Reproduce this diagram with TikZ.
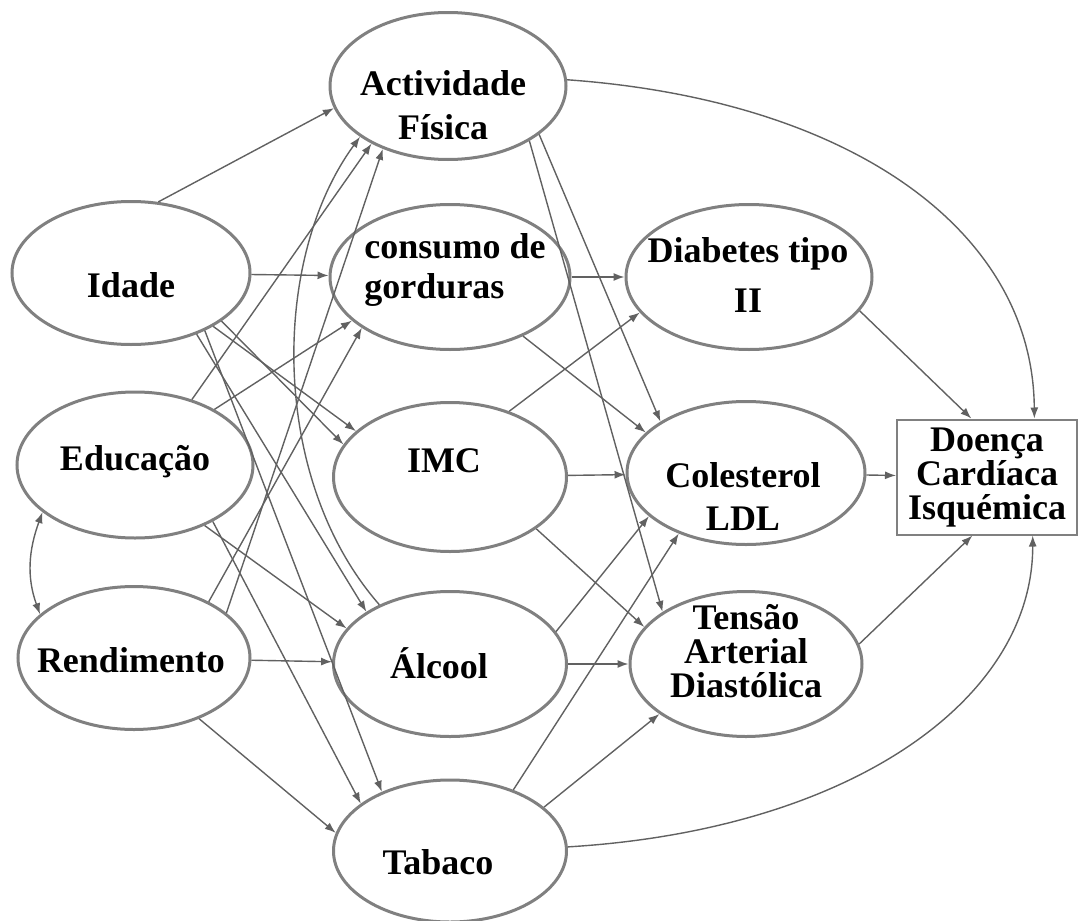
\documentclass[tikz,border=0pt]{standalone}
\usepackage{fontspec}
\setmainfont{Liberation Serif}
\usepackage{tikz}
\usetikzlibrary{
    shapes.geometric,
    arrows.meta,
    positioning
}
\tikzstyle{arrow} = [
    ->,
    >={Latex[length=5.5pt,width=4pt]},
    draw=black!62,
    line width=0.7pt
]

\begin{document}
\begin{tikzpicture}[
    x=0.5pt, y=-0.5pt,
    var/.style={ellipse, draw=black!50, line width=1.5pt, fill=white, minimum width=118pt, minimum height=72.5pt, inner sep=0pt},
    lbl/.style={font=\bfseries\fontsize{18}{22}\selectfont, align=center, inner sep=0pt},
    outcome/.style={rectangle, draw=black!50, line width=1pt, fill=white, minimum width=90pt, minimum height=57.5pt, inner sep=0pt}
]
    \useasboundingbox (0,0) rectangle (1088,921);

    % Exogenous variables
    \node[var, minimum width=119pt, minimum height=71.5pt] (idade) at (131,273) {};
    \node[lbl] (idade-t) at (131,285) {Idade};
    \node[var, minimum height=73pt] (educacao) at (135,465) {};
    \node[lbl] (educacao-t) at (135,462) {Educação};
    \node[var, minimum width=116pt, minimum height=71.5pt] (rendimento) at (134,658) {};
    \node[lbl] (rendimento-t) at (131,660) {Rendimento};

    % Behaviours
    \node[var, minimum height=73.5pt] (actividade) at (448,86) {};
    \node[lbl] (actividade-t) at (443,105) {Actividade\\Física};
    \node[var, minimum width=120pt] (consumo) at (450,277) {};
    \node[lbl, align=left, font=\bfseries\fontsize{18}{20}\selectfont] (consumo-t) at (455,270) {consumo de\\gorduras};
    \node[var, minimum width=116.5pt, minimum height=74.5pt] (imc) at (450,477) {};
    \node[lbl] (imc-t) at (444,461) {IMC};
    \node[var, minimum width=116.5pt] (alcool) at (450,664) {};
    \node[lbl] (alcool-t) at (439,663) {Álcool};
    \node[var, minimum width=116.5pt, minimum height=71pt] (tabaco) at (450,851) {};
    \node[lbl] (tabaco-t) at (438,862) {Tabaco};

    % Risk factors
    \node[var, minimum width=123pt] (diabetes) at (749,277) {};
    \node[lbl, font=\bfseries\fontsize{18}{25}\selectfont] (diabetes-t) at (748,275) {Diabetes tipo\\II};
    \node[var, minimum width=119pt, minimum height=71.5pt] (colesterol) at (746,473) {};
    \node[lbl, font=\bfseries\fontsize{18}{21.5}\selectfont] (colesterol-t) at (743,497) {Colesterol\\LDL};
    \node[var, minimum width=116pt] (tensao) at (746,664) {};
    \node[lbl, font=\bfseries\fontsize{18}{17}\selectfont] (tensao-t) at (746,651) {Tensão\\Arterial\\Diastólica};

    % Outcome
    \node[outcome] (doenca) at (987,477) {};
    \node[lbl, font=\bfseries\fontsize{18}{17}\selectfont] (doenca-t) at (987,478) {Doença\\Cardíaca\\Isquémica};

    % Idade
    \draw[arrow] (idade.69) -- (actividade.191);
    \draw[arrow] (idade) -- (consumo);
    \draw[arrow] (idade.-33) -- (imc.154);
    \draw[arrow] (idade.-28) -- (imc.163);
    \draw[arrow] (idade.-43) -- (alcool.148);
    \draw[arrow] (idade.-38) -- (tabaco.139);

    % Educacao
    \draw[arrow] (educacao.49) -- (actividade.217);
    \draw[arrow] (educacao.35) -- (consumo.204);
    \draw[arrow] (educacao.-41) -- (alcool.161);
    \draw[arrow] (educacao.-36) -- (tabaco.152);
    \draw[arrow, <->] (educacao.207) to[out=250, in=110] (rendimento.155);

    % Rendimento
    \draw[arrow] (rendimento.26) -- (actividade.224);
    \draw[arrow] (rendimento.37) -- (consumo.210);
    \draw[arrow] (rendimento) -- (alcool);
    \draw[arrow] (rendimento.-43) -- (tabaco.171);
    \draw[arrow] (alcool.140) .. controls (270,480) and (270,260) .. (actividade.210);

    % Behaviours to risk factors
    \draw[arrow] (actividade.-28) -- (colesterol.149);
    \draw[arrow] (actividade.-34) -- (tensao.148);
    \draw[arrow] (consumo) -- (diabetes);
    \draw[arrow] (consumo.-39) -- (colesterol.158);
    \draw[arrow] (imc.48) -- (diabetes.198);
    \draw[arrow] (imc) -- (colesterol);
    \draw[arrow] (imc.-31) -- (tensao.160);
    \draw[arrow] (alcool.17) -- (colesterol.204);
    \draw[arrow] (alcool) -- (tensao);
    \draw[arrow] (tabaco.44) -- (colesterol.222);
    \draw[arrow] (tabaco.25) -- (tensao.210);

    % Direct effects
    \draw[arrow] (actividade.3) .. controls (850,100) and (1033,230) .. (doenca.51);
    \draw[arrow] (tabaco.2) .. controls (850,830) and (1033,700) .. (doenca.308);
    \draw[arrow] (diabetes.-17) -- (doenca.105);
    \draw[arrow] (colesterol) -- (doenca);
    \draw[arrow] (tensao.10) -- (doenca.256);

\end{tikzpicture}
\end{document}
